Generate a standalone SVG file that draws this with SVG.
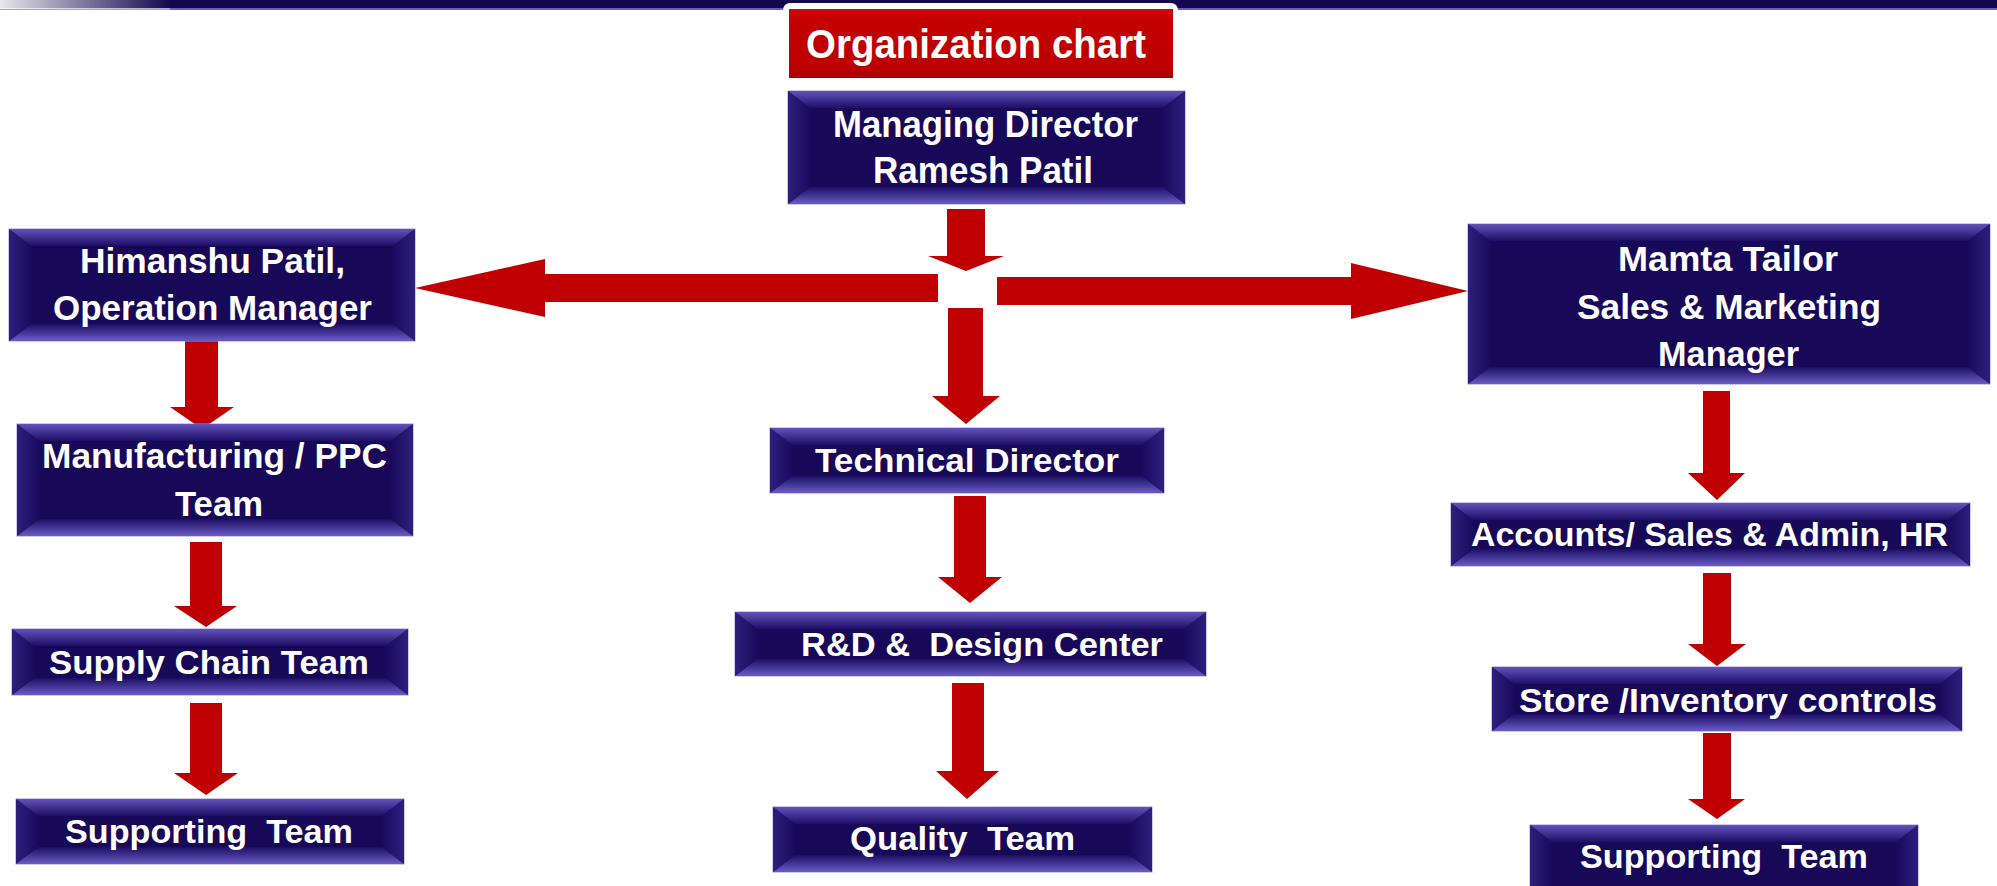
<svg xmlns="http://www.w3.org/2000/svg" width="1997" height="886" viewBox="0 0 1997 886">
<defs>
<linearGradient id="gTop" x1="0" y1="0" x2="0" y2="1"><stop offset="0" stop-color="#6153BB"/><stop offset="1" stop-color="#1E0E66"/></linearGradient>
<linearGradient id="gBot" x1="0" y1="0" x2="0" y2="1"><stop offset="0" stop-color="#1C0D64"/><stop offset="1" stop-color="#6A5CC5"/></linearGradient>
<linearGradient id="gL" x1="0" y1="0" x2="1" y2="0"><stop offset="0" stop-color="#2E1F7C"/><stop offset="1" stop-color="#190A5E"/></linearGradient>
<linearGradient id="gR" x1="0" y1="0" x2="1" y2="0"><stop offset="0" stop-color="#190A5E"/><stop offset="1" stop-color="#2E1F7C"/></linearGradient>
<linearGradient id="gRed" x1="0" y1="0" x2="0" y2="1"><stop offset="0" stop-color="#D20808"/><stop offset="0.15" stop-color="#C40000"/><stop offset="0.85" stop-color="#BC0000"/><stop offset="1" stop-color="#A80000"/></linearGradient>
<linearGradient id="gBarFade" x1="0" y1="0" x2="1" y2="0"><stop offset="0" stop-color="#FFFFFF" stop-opacity="0.9"/><stop offset="1" stop-color="#FFFFFF" stop-opacity="0"/></linearGradient>
</defs>
<style>
.base{fill:#170858;stroke:#9C94D2;stroke-width:1}
.bt{fill:url(#gTop)}
.bb{fill:url(#gBot)}
.bl{fill:url(#gL)}
.br{fill:url(#gR)}
.lbl{font-family:"Liberation Sans",Arial,sans-serif;font-weight:bold;fill:#FFFFFF;white-space:pre}
.arr{fill:#C00000}
</style>
<rect width="1997" height="886" fill="#FFFFFF"/>
<g id="topbar">
<rect x="0" y="0" width="1997" height="9" fill="#15074F"/>
<rect x="0" y="8" width="1997" height="2" fill="#6C5DB8"/>
<rect x="0" y="8" width="170" height="2" fill="#A9A2D6"/>
<polygon points="0,0 170,0 170,9 0,9" fill="url(#gBarFade)"/>
</g>
<g id="title">
<rect x="783" y="3" width="395" height="82" rx="7" fill="#FFFFFF"/>
<rect x="789" y="9" width="384" height="69" fill="url(#gRed)"/>
<text class="lbl" x="806" y="58" font-size="40" textLength="340" lengthAdjust="spacingAndGlyphs">Organization chart</text>
</g>
<g id="connectors">
<polygon class="arr" points="947,209 985,209 985,256 1004,256 966,271 928,256 947,256"/>
<polygon class="arr" points="938,274 545,274 545,259 415,288 545,317 545,302 938,302"/>
<polygon class="arr" points="997,277 1351,277 1351,263 1468,291 1351,319 1351,305 997,305"/>
<polygon class="arr" points="948,308 983,308 983,396 1000,396 966,424 932,396 948,396"/>
<polygon class="arr" points="954,496 986,496 986,577 1002,577 970,603 938,577 954,577"/>
<polygon class="arr" points="952,683 984,683 984,771 999,771 967,799 936,771 952,771"/>
<polygon class="arr" points="185,338 218,338 218,407 234,407 202,429 170,407 185,407"/>
<polygon class="arr" points="190,542 222,542 222,606 237,606 206,627 174,606 190,606"/>
<polygon class="arr" points="190,703 222,703 222,773 238,773 206,795 174,773 190,773"/>
<polygon class="arr" points="1703,391 1730,391 1730,473 1745,473 1717,500 1688,473 1703,473"/>
<polygon class="arr" points="1703,573 1731,573 1731,644 1746,644 1717,666 1688,644 1703,644"/>
<polygon class="arr" points="1703,733 1731,733 1731,799 1745,799 1717,819 1688,799 1703,799"/>
</g>
<g id="node-md">
<rect class="base" x="788" y="91" width="397" height="113"/>
<polygon class="bt" points="788,91 1185,91 1163,108 810,108"/>
<polygon class="bb" points="788,204 1185,204 1163,187 810,187"/>
<polygon class="bl" points="788,91 810,108 810,187 788,204"/>
<polygon class="br" points="1185,91 1163,108 1163,187 1185,204"/>
<text class="lbl" x="833" y="137" font-size="37" textLength="305" lengthAdjust="spacingAndGlyphs">Managing Director</text>
<text class="lbl" x="873" y="183" font-size="37" textLength="220" lengthAdjust="spacingAndGlyphs">Ramesh Patil</text>
</g>
<g id="node-himanshu">
<rect class="base" x="9" y="229" width="406" height="112"/>
<polygon class="bt" points="9,229 415,229 393,246 31,246"/>
<polygon class="bb" points="9,341 415,341 393,324 31,324"/>
<polygon class="bl" points="9,229 31,246 31,324 9,341"/>
<polygon class="br" points="415,229 393,246 393,324 415,341"/>
<text class="lbl" x="80" y="273" font-size="35" textLength="265" lengthAdjust="spacingAndGlyphs">Himanshu Patil,</text>
<text class="lbl" x="53" y="320" font-size="35" textLength="319" lengthAdjust="spacingAndGlyphs">Operation Manager</text>
</g>
<g id="node-mfg">
<rect class="base" x="17" y="424" width="396" height="112"/>
<polygon class="bt" points="17,424 413,424 391,441 39,441"/>
<polygon class="bb" points="17,536 413,536 391,519 39,519"/>
<polygon class="bl" points="17,424 39,441 39,519 17,536"/>
<polygon class="br" points="413,424 391,441 391,519 413,536"/>
<text class="lbl" x="42" y="468" font-size="35" textLength="345" lengthAdjust="spacingAndGlyphs">Manufacturing / PPC</text>
<text class="lbl" x="175" y="516" font-size="35" textLength="88" lengthAdjust="spacingAndGlyphs">Team</text>
</g>
<g id="node-supply">
<rect class="base" x="12" y="629" width="396" height="66"/>
<polygon class="bt" points="12,629 408,629 386,646 34,646"/>
<polygon class="bb" points="12,695 408,695 386,678 34,678"/>
<polygon class="bl" points="12,629 34,646 34,678 12,695"/>
<polygon class="br" points="408,629 386,646 386,678 408,695"/>
<text class="lbl" x="49" y="674" font-size="34" textLength="320" lengthAdjust="spacingAndGlyphs">Supply Chain Team</text>
</g>
<g id="node-support-left">
<rect class="base" x="16" y="799" width="388" height="65"/>
<polygon class="bt" points="16,799 404,799 382,816 38,816"/>
<polygon class="bb" points="16,864 404,864 382,847 38,847"/>
<polygon class="bl" points="16,799 38,816 38,847 16,864"/>
<polygon class="br" points="404,799 382,816 382,847 404,864"/>
<text class="lbl" x="65" y="843" font-size="34" textLength="288" lengthAdjust="spacingAndGlyphs" xml:space="preserve">Supporting  Team</text>
</g>
<g id="node-tech">
<rect class="base" x="770" y="428" width="394" height="65"/>
<polygon class="bt" points="770,428 1164,428 1142,445 792,445"/>
<polygon class="bb" points="770,493 1164,493 1142,476 792,476"/>
<polygon class="bl" points="770,428 792,445 792,476 770,493"/>
<polygon class="br" points="1164,428 1142,445 1142,476 1164,493"/>
<text class="lbl" x="815" y="472" font-size="34" textLength="304" lengthAdjust="spacingAndGlyphs">Technical Director</text>
</g>
<g id="node-rnd">
<rect class="base" x="735" y="612" width="471" height="64"/>
<polygon class="bt" points="735,612 1206,612 1184,629 757,629"/>
<polygon class="bb" points="735,676 1206,676 1184,659 757,659"/>
<polygon class="bl" points="735,612 757,629 757,659 735,676"/>
<polygon class="br" points="1206,612 1184,629 1184,659 1206,676"/>
<text class="lbl" x="801" y="656" font-size="34" textLength="362" lengthAdjust="spacingAndGlyphs" xml:space="preserve">R&amp;D &amp;  Design Center</text>
</g>
<g id="node-quality">
<rect class="base" x="773" y="807" width="379" height="65"/>
<polygon class="bt" points="773,807 1152,807 1130,824 795,824"/>
<polygon class="bb" points="773,872 1152,872 1130,855 795,855"/>
<polygon class="bl" points="773,807 795,824 795,855 773,872"/>
<polygon class="br" points="1152,807 1130,824 1130,855 1152,872"/>
<text class="lbl" x="850" y="850" font-size="34" textLength="225" lengthAdjust="spacingAndGlyphs" xml:space="preserve">Quality  Team</text>
</g>
<g id="node-mamta">
<rect class="base" x="1468" y="224" width="522" height="160"/>
<polygon class="bt" points="1468,224 1990,224 1968,241 1490,241"/>
<polygon class="bb" points="1468,384 1990,384 1968,367 1490,367"/>
<polygon class="bl" points="1468,224 1490,241 1490,367 1468,384"/>
<polygon class="br" points="1990,224 1968,241 1968,367 1990,384"/>
<text class="lbl" x="1618" y="271" font-size="35" textLength="220" lengthAdjust="spacingAndGlyphs">Mamta Tailor</text>
<text class="lbl" x="1577" y="319" font-size="35" textLength="304" lengthAdjust="spacingAndGlyphs">Sales &amp; Marketing</text>
<text class="lbl" x="1658" y="366" font-size="35" textLength="141" lengthAdjust="spacingAndGlyphs">Manager</text>
</g>
<g id="node-accounts">
<rect class="base" x="1451" y="503" width="519" height="63"/>
<polygon class="bt" points="1451,503 1970,503 1948,520 1473,520"/>
<polygon class="bb" points="1451,566 1970,566 1948,549 1473,549"/>
<polygon class="bl" points="1451,503 1473,520 1473,549 1451,566"/>
<polygon class="br" points="1970,503 1948,520 1948,549 1970,566"/>
<text class="lbl" x="1471" y="546" font-size="34" textLength="477" lengthAdjust="spacingAndGlyphs">Accounts/ Sales &amp; Admin, HR</text>
</g>
<g id="node-store">
<rect class="base" x="1492" y="667" width="470" height="64"/>
<polygon class="bt" points="1492,667 1962,667 1940,684 1514,684"/>
<polygon class="bb" points="1492,731 1962,731 1940,714 1514,714"/>
<polygon class="bl" points="1492,667 1514,684 1514,714 1492,731"/>
<polygon class="br" points="1962,667 1940,684 1940,714 1962,731"/>
<text class="lbl" x="1519" y="712" font-size="34" textLength="418" lengthAdjust="spacingAndGlyphs">Store /Inventory controls</text>
</g>
<g id="node-support-right">
<rect class="base" x="1530" y="825" width="388" height="75"/>
<polygon class="bt" points="1530,825 1918,825 1896,842 1552,842"/>
<polygon class="bl" points="1530,825 1552,842 1552,900 1530,900"/>
<polygon class="br" points="1918,825 1896,842 1896,900 1918,900"/>
<text class="lbl" x="1580" y="868" font-size="34" textLength="288" lengthAdjust="spacingAndGlyphs" xml:space="preserve">Supporting  Team</text>
</g>
</svg>
